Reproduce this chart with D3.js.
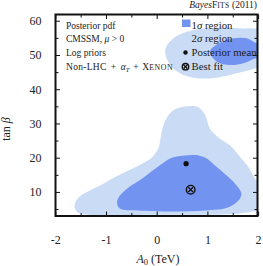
<!DOCTYPE html>
<html>
<head>
<meta charset="utf-8">
<script src="https://cdn.jsdelivr.net/npm/d3@7"></script>
<style>
  body { margin: 0; background: #fff; }
  svg { display: block; }
  text { font-family: "Liberation Serif", "DejaVu Serif", serif; fill: #222; }
</style>
</head>
<body>
<div id="chart"></div>
<script>
// contours, [A0 (TeV), tan beta]
const twoSigmaLow = [
    [-1.58, 4.3], [-1.63, 6.2], [-1.55, 8.5], [-1.35, 10.4], [-1.09, 12.3], [-0.83, 14.5],
    [-0.57, 16.4], [-0.30, 18.4], [-0.10, 20.3], [0.03, 23.2], [0.08, 27.1], [0.16, 31.0],
    [0.32, 34.0], [0.55, 35.1], [0.81, 34.9], [0.95, 32.5], [1.04, 28.6], [1.21, 26.0],
    [1.44, 23.7], [1.64, 20.3], [1.80, 17.4], [1.93, 14.0], [2.08, 11.5], [2.08, 5.0],
    [1.87, 4.4], [1.67, 3.9], [1.27, 3.55], [0.0, 3.5], [-1.35, 3.5]
];
const oneSigmaLow = [
    [0.55, 20.8], [0.29, 20.1], [-0.04, 16.9], [-0.30, 14.0], [-0.57, 11.4], [-0.76, 8.6],
    [-0.79, 6.7], [-0.73, 5.2], [-0.37, 4.75], [0.29, 4.46], [0.95, 4.75], [1.41, 5.7],
    [1.62, 7.9], [1.66, 9.8], [1.54, 12.5], [1.34, 15.3], [1.14, 17.9], [0.95, 20.1], [0.75, 20.9]
];
const twoSigmaHigh = [
    [0.16, 51.6], [0.32, 55.0], [0.585, 56.9], [0.91, 57.9], [1.34, 58.2], [1.69, 57.9],
    [1.89, 57.9], [2.08, 57.3], [2.08, 46.8], [1.93, 46.2], [1.71, 45.3], [1.37, 44.1],
    [1.04, 43.3], [0.715, 43.5], [0.45, 44.8], [0.256, 47.2]
];
const oneSigmaHigh = [
    [1.04, 51.1], [1.21, 53.5], [1.50, 55.0], [1.77, 55.0], [1.90, 54.0], [2.08, 52.6],
    [2.08, 49.7], [1.93, 49.1], [1.70, 47.7], [1.44, 47.2], [1.18, 48.2]
];
const posteriorMean = [0.57, 18.4];
const bestFit = [0.66, 10.8];

const xMajor = [-2, -1, 0, 1, 2];
const xMinor = [-1.5, -0.5, 0.5, 1.5];
const yMajor = [10, 20, 30, 40, 50, 60];
const yMinor = [5, 15, 25, 35, 45, 55];

const W = 263, H = 266;
const box = { left: 55.5, right: 257.5, top: 14.5, bottom: 216 };
const lightBlue = "#c9dbf5", darkBlue = "#7393f1";

const svg = d3.select("#chart").append("svg").attr("width", W).attr("height", H);

const x = d3.scaleLinear().domain([-2, 2]).range([55.8, 258.6]);
const y = d3.scaleLinear().domain([3, 62]).range([216.4, 14.4]);

svg.append("clipPath").attr("id", "plotclip")
    .append("rect")
    .attr("x", box.left).attr("y", box.top)
    .attr("width", box.right - box.left).attr("height", box.bottom - box.top);

const area = svg.append("g").attr("clip-path", "url(#plotclip)");
const line = d3.line().x(d => x(d[0])).y(d => y(d[1])).curve(d3.curveCatmullRomClosed.alpha(0.5));

area.append("path").attr("d", line(twoSigmaLow)).attr("fill", lightBlue);
area.append("path").attr("d", line(twoSigmaHigh)).attr("fill", lightBlue);
area.append("path").attr("d", line(oneSigmaLow)).attr("fill", darkBlue);
area.append("path").attr("d", line(oneSigmaHigh)).attr("fill", darkBlue);

// markers
function bestFitMark(g, cx, cy, r) {
    g.append("circle").attr("cx", cx).attr("cy", cy).attr("r", r)
        .attr("fill", "none").attr("stroke", "#111").attr("stroke-width", 1.4);
    const k = r * 0.55;
    g.append("path")
        .attr("d", `M${cx - k},${cy - k}L${cx + k},${cy + k}M${cx - k},${cy + k}L${cx + k},${cy - k}`)
        .attr("stroke", "#111").attr("stroke-width", 1.3);
}
svg.append("circle").attr("cx", x(posteriorMean[0])).attr("cy", y(posteriorMean[1]))
    .attr("r", 2.6).attr("fill", "#111");
bestFitMark(svg, x(bestFit[0]), y(bestFit[1]), 4.3);

// frame + ticks on all sides, pointing in
const frame = svg.append("g").attr("stroke", "#111");
frame.append("rect")
    .attr("x", box.left).attr("y", box.top)
    .attr("width", box.right - box.left).attr("height", box.bottom - box.top)
    .attr("fill", "none").attr("stroke-width", 2);

function xTicks(vals, len) {
    vals.forEach(v => {
        frame.append("line").attr("x1", x(v)).attr("x2", x(v))
            .attr("y1", box.bottom).attr("y2", box.bottom - len).attr("stroke-width", 1);
        frame.append("line").attr("x1", x(v)).attr("x2", x(v))
            .attr("y1", box.top).attr("y2", box.top + len).attr("stroke-width", 1);
    });
}
function yTicks(vals, len) {
    vals.forEach(v => {
        frame.append("line").attr("y1", y(v)).attr("y2", y(v))
            .attr("x1", box.left).attr("x2", box.left + len).attr("stroke-width", 1);
        frame.append("line").attr("y1", y(v)).attr("y2", y(v))
            .attr("x1", box.right).attr("x2", box.right - len).attr("stroke-width", 1);
    });
}
xTicks(xMajor, 4.5); xTicks(xMinor, 3);
yTicks(yMajor, 4.5); yTicks(yMinor, 3);

// tick labels
svg.append("g").selectAll("text").data(xMajor).enter().append("text")
    .attr("x", d => x(d)).attr("y", 244)
    .attr("text-anchor", "middle").attr("font-size", 12)
    .text(d => d < 0 ? "-" + Math.abs(d) : d);
svg.append("g").selectAll("text").data(yMajor).enter().append("text")
    .attr("x", 41.5).attr("y", d => y(d) + 4)
    .attr("text-anchor", "end").attr("font-size", 12)
    .text(d => d);

// axis titles
const xt = svg.append("text").attr("x", 158).attr("y", 263).attr("text-anchor", "middle").attr("font-size", 12);
xt.append("tspan").attr("font-style", "italic").text("A");
xt.append("tspan").attr("font-size", 8.5).attr("dy", 2).text("0");
xt.append("tspan").attr("dy", -2).text(" (TeV)");

const yt = svg.append("text").attr("transform", "translate(10,129) rotate(-90)")
    .attr("text-anchor", "middle").attr("font-size", 12);
yt.append("tspan").text("tan ");
yt.append("tspan").attr("font-style", "italic").text("β");

// header
const hd = svg.append("text").attr("x", 257).attr("y", 8).attr("text-anchor", "end").attr("font-size", 9.5);
hd.append("tspan").attr("font-style", "italic").text("Bayes");
hd.append("tspan").text("F");
hd.append("tspan").attr("font-size", 7.5).attr("letter-spacing", 0.4).text("ITS");
hd.append("tspan").text(" (2011)");

// left text block
const rows = [28.5, 42.3, 56, 70];
const fs = 9.5;
svg.append("text").attr("x", 66).attr("y", rows[0]).attr("font-size", fs).text("Posterior pdf");
const t2 = svg.append("text").attr("x", 66).attr("y", rows[1]).attr("font-size", fs);
t2.append("tspan").text("CMSSM, ");
t2.append("tspan").attr("font-style", "italic").text("μ");
t2.append("tspan").text(" > 0");
svg.append("text").attr("x", 66).attr("y", rows[2]).attr("font-size", fs).text("Log priors");
const t4 = svg.append("text").attr("x", 66).attr("y", rows[3]).attr("font-size", fs)
    .attr("word-spacing", 1.5);
t4.append("tspan").attr("letter-spacing", 0.3).text("Non-LHC + ");
t4.append("tspan").attr("font-style", "italic").text("α");
t4.append("tspan").attr("font-style", "italic").attr("font-size", 6.5).attr("dy", 1.5).text("T");
t4.append("tspan").attr("dy", -1.5).text(" + X");
t4.append("tspan").attr("font-size", 7.8).attr("letter-spacing", 0.6).text("ENON");

// legend
const lfs = 10.8;
svg.append("rect").attr("x", 182).attr("y", 19.5).attr("width", 8.5).attr("height", 7.5).attr("fill", darkBlue);
const l1 = svg.append("text").attr("x", 191.5).attr("y", rows[0]).attr("font-size", lfs);
l1.append("tspan").text("1");
l1.append("tspan").attr("font-style", "italic").text("σ");
l1.append("tspan").text(" region");
const l2 = svg.append("text").attr("x", 191.5).attr("y", rows[1]).attr("font-size", lfs);
l2.append("tspan").text("2");
l2.append("tspan").attr("font-style", "italic").text("σ");
l2.append("tspan").text(" region");
svg.append("circle").attr("cx", 185.5).attr("cy", rows[2] - 3.5).attr("r", 2.2).attr("fill", "#111");
svg.append("text").attr("x", 191.5).attr("y", rows[2]).attr("font-size", lfs).text("Posterior mean");
bestFitMark(svg, 185.5, rows[3] - 3.3, 3.2);
svg.append("text").attr("x", 191.5).attr("y", rows[3]).attr("font-size", lfs).text("Best fit");
</script>
</body>
</html>
